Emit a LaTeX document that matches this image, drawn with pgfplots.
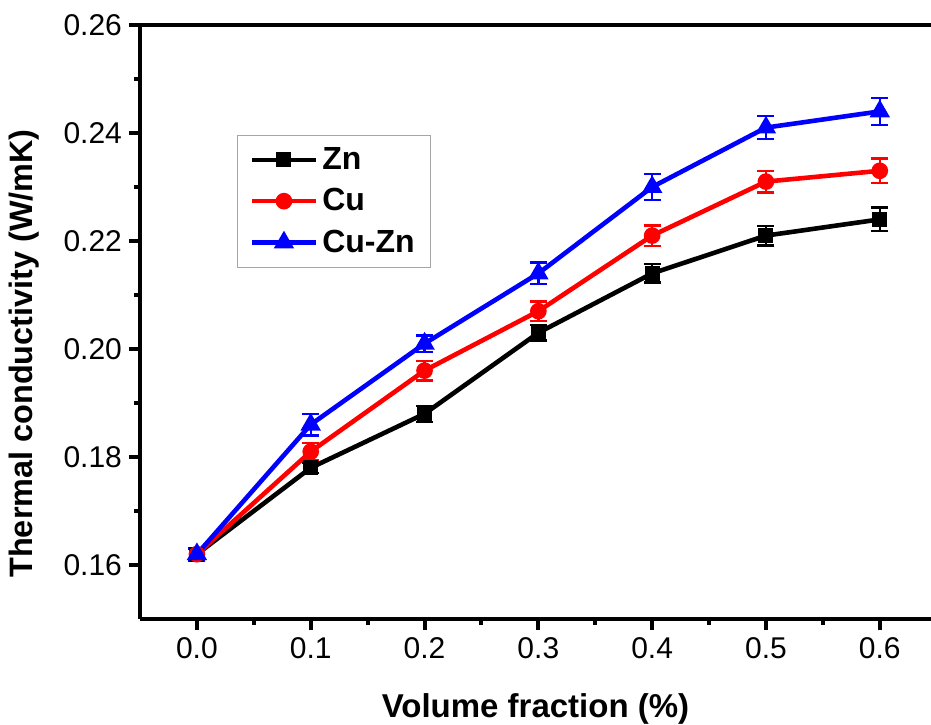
\documentclass[border=0pt]{standalone}
\usepackage{pgfplots}
\pgfplotsset{compat=1.18}
\usepackage{fontspec}
\setmainfont{Liberation Sans}
\begin{document}
\begin{tikzpicture}
\path[use as bounding box] (-70pt,-52.5pt) rectangle (395.5pt,309.5pt);
\begin{axis}[
  at={(0pt,0pt)}, anchor=south west,
  scale only axis, width=395.5pt, height=297pt,
  xmin=-0.05, xmax=0.645, ymin=0.15, ymax=0.26,
  axis x line*=bottom, axis y line*=left,
  axis line style={line width=2pt},
  clip=false,
  tick align=outside,
  major tick length=5.5pt, minor tick length=3pt,
  every tick/.style={line width=2pt, black},
  xtick={0,0.1,0.2,0.3,0.4,0.5,0.6},
  ytick={0.16,0.18,0.20,0.22,0.24,0.26},
  minor x tick num=1, minor y tick num=1,
  /pgf/number format/assume math mode=true,
  tick label style={font=\fontsize{15}{17}\selectfont},
  xticklabel style={/pgf/number format/.cd, fixed, fixed zerofill, precision=1},
  yticklabel style={/pgf/number format/.cd, fixed, fixed zerofill, precision=2},
  xlabel={Volume fraction (\%)},
  ylabel={Thermal conductivity (W/mK)},
  xlabel style={font=\fontsize{16.5}{19}\selectfont\bfseries, at={(axis description cs:0.5,-0.165)}, anchor=base},
  ylabel style={font=\fontsize{16.2}{19}\selectfont\bfseries, at={(axis description cs:-0.146,0.447)}, anchor=center, rotate=0},
  legend style={at={(axis description cs:0.1227,0.815)}, anchor=north west,
    draw=gray!70, line width=0.6pt, inner xsep=6pt, inner ysep=4pt,
    row sep=4pt, font=\fontsize{16}{18}\selectfont\bfseries},
  legend cell align=left,
  legend image code/.code={\draw[mark repeat=2,mark phase=2,#1] plot coordinates {(0pt,0pt) (16pt,0pt) (32pt,0pt)};},
  error bars/y dir=both, error bars/y explicit,
  error bars/error bar style={line width=1.2pt},
  error bars/error mark options={rotate=90, line width=1.2pt, mark size=4.25pt},
]
\addplot[black, line width=2.3pt, mark=square*, mark size=2.6pt, mark options={solid}] coordinates {
  (0.0,0.162) +- (0,0.0010)
  (0.1,0.178) +- (0,0.0010)
  (0.2,0.188) +- (0,0.0015)
  (0.3,0.203) +- (0,0.0014)
  (0.4,0.214) +- (0,0.0017)
  (0.5,0.221) +- (0,0.0018)
  (0.6,0.224) +- (0,0.0022)
};
\addlegendentry{Zn}
\addplot[red, line width=2.3pt, mark=*, mark size=3pt, mark options={solid}] coordinates {
  (0.0,0.162) +- (0,0.0011)
  (0.1,0.181) +- (0,0.0016)
  (0.2,0.196) +- (0,0.0018)
  (0.3,0.207) +- (0,0.0018)
  (0.4,0.221) +- (0,0.0019)
  (0.5,0.231) +- (0,0.0020)
  (0.6,0.233) +- (0,0.0023)
};
\addlegendentry{Cu}
\addplot[blue, line width=2.3pt, mark=triangle*, mark size=3.6pt, mark options={solid}] coordinates {
  (0.0,0.162) +- (0,0.0012)
  (0.1,0.186) +- (0,0.0020)
  (0.2,0.201) +- (0,0.0015)
  (0.3,0.214) +- (0,0.0020)
  (0.4,0.230) +- (0,0.0024)
  (0.5,0.241) +- (0,0.0021)
  (0.6,0.244) +- (0,0.0025)
};
\addlegendentry{Cu-Zn}
\draw[line width=2pt] (rel axis cs:0,1) -- (rel axis cs:1,1);
\end{axis}
\end{tikzpicture}
\end{document}
